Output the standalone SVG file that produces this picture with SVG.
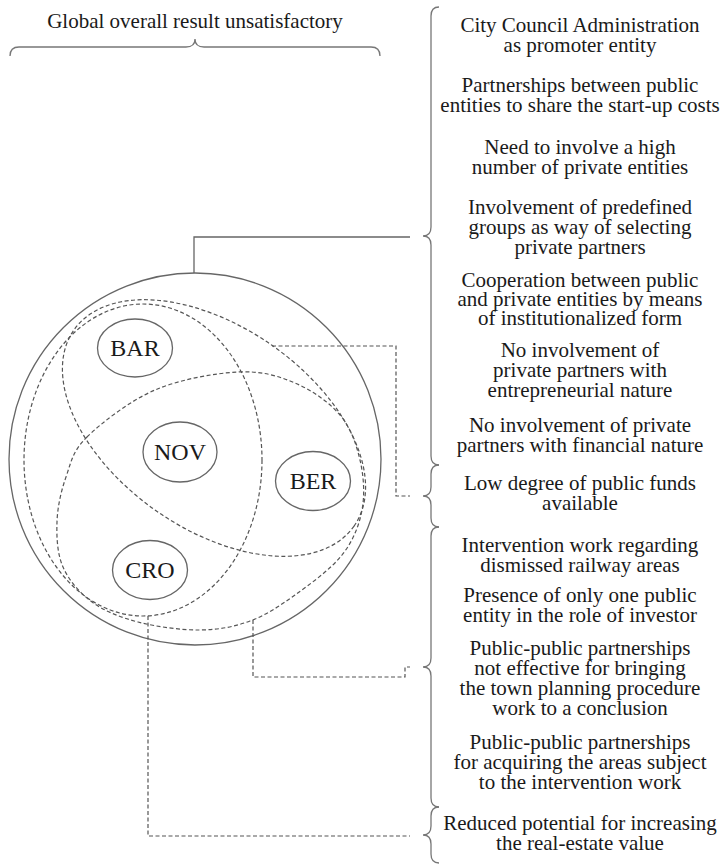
<svg xmlns="http://www.w3.org/2000/svg" width="720" height="865" viewBox="0 0 720 865">
<style>
.t{font-family:"Liberation Serif","Times New Roman",serif;font-size:21px;fill:#1a1a1a;text-anchor:middle}
.c{font-family:"Liberation Serif","Times New Roman",serif;font-size:24px;fill:#1a1a1a;text-anchor:middle}
.solid{fill:none;stroke:#666;stroke-width:1.3}
.dash{fill:none;stroke:#555;stroke-width:1.2;stroke-dasharray:4 2.5}
.brace{fill:none;stroke:#777;stroke-width:1.3}
</style>
<rect width="720" height="865" fill="#fff"/>
<g id="title">
<text class="t" x="195" y="28">Global overall result unsatisfactory</text>
<path class="brace" d="M10,56 Q10,47 19,47 L186,47 Q195,47 195,39 Q195,47 204,47 L371,47 Q380,47 380,56"/>
</g>
<g id="circle-all">
<circle class="solid" cx="195" cy="459" r="186"/>
</g>
<g id="groups">
<ellipse id="group-bar-nov-cro" class="dash" cx="143" cy="460" rx="119" ry="156"/>
<ellipse id="group-bar-nov-ber" class="dash" cx="214" cy="428" rx="171" ry="101" transform="rotate(35 214 428)"/>
<path id="group-cro-nov-ber" class="dash" d="M87,437 C101.8,422.5 129.8,400.8 155,390 C180.2,379.2 214.7,373.2 238,372 C261.3,370.8 278,375.8 295,383 C312,390.2 329.2,402.2 340,415 C350.8,427.8 356.3,444.2 360,460 C363.7,475.8 365,494.2 362,510 C359,525.8 353.2,540.8 342,555 C330.8,569.2 310.3,584 295,595 C279.7,606 265.8,615.2 250,621 C234.2,626.8 218.7,629.8 200,630 C181.3,630.2 156,626.7 138,622 C120,617.3 104.5,611.2 92,602 C79.5,592.8 68.8,580.3 63,567 C57.2,553.7 56.5,537 57,522 C57.5,507 61,491.2 66,477 C71,462.8 72.2,451.5 87,437 Z"/>
</g>
<g id="node-bar">
<ellipse class="solid" cx="135" cy="348" rx="37.5" ry="29"/>
<text class="c" x="135" y="356">BAR</text>
</g>
<g id="node-nov">
<ellipse class="solid" cx="180" cy="452" rx="37" ry="30"/>
<text class="c" x="180" y="460">NOV</text>
</g>
<g id="node-ber">
<ellipse class="solid" cx="313" cy="481" rx="37.5" ry="29.5"/>
<text class="c" x="313" y="489">BER</text>
</g>
<g id="node-cro">
<ellipse class="solid" cx="150" cy="570" rx="37.5" ry="29.5"/>
<text class="c" x="150" y="578">CRO</text>
</g>
<g id="connectors">
<path class="solid" d="M194,273 V237 H410"/>
<path class="dash" d="M272,346 H396 V496 H410"/>
<path class="dash" d="M253,620 V677 H405 V667 H410"/>
<path class="dash" d="M148,616 V836 H410"/>
</g>
<g id="braces">
<path class="brace" d="M439,7 Q431,7 431,16 L431,227 Q431,236 423,236 Q431,236 431,245 L431,456 Q431,465 439,465"/>
<path class="brace" d="M439,465 Q431,465 431,474 L431,487 Q431,496 423,496 Q431,496 431,505 L431,518 Q431,527 439,527"/>
<path class="brace" d="M439,527 Q431,527 431,536 L431,658 Q431,667 423,667 Q431,667 431,676 L431,798 Q431,807 439,807"/>
<path class="brace" d="M439,807 Q431,807 431,816 L431,826 Q431,835 423,835 Q431,835 431,844 L431,854 Q431,863 439,863"/>
</g>
<g id="features">
<text class="t" x="580" y="32">City Council Administration</text>
<text class="t" x="580" y="52">as promoter entity</text>
<text class="t" x="580" y="92">Partnerships between public</text>
<text class="t" x="580" y="112">entities to share the start-up costs</text>
<text class="t" x="580" y="154">Need to involve a high</text>
<text class="t" x="580" y="174">number of private entities</text>
<text class="t" x="580" y="214">Involvement of predefined</text>
<text class="t" x="580" y="234">groups as way of selecting</text>
<text class="t" x="580" y="254">private partners</text>
<text class="t" x="580" y="287">Cooperation between public</text>
<text class="t" x="580" y="306">and private entities by means</text>
<text class="t" x="580" y="325">of institutionalized form</text>
<text class="t" x="580" y="357">No involvement of</text>
<text class="t" x="580" y="377">private partners with</text>
<text class="t" x="580" y="397">entrepreneurial nature</text>
<text class="t" x="580" y="432">No involvement of private</text>
<text class="t" x="580" y="452">partners with financial nature</text>
<text class="t" x="580" y="490">Low degree of public funds</text>
<text class="t" x="580" y="510">available</text>
<text class="t" x="580" y="552">Intervention work regarding</text>
<text class="t" x="580" y="572">dismissed railway areas</text>
<text class="t" x="580" y="602">Presence of only one public</text>
<text class="t" x="580" y="622">entity in the role of investor</text>
<text class="t" x="580" y="655">Public-public partnerships</text>
<text class="t" x="580" y="675">not effective for bringing</text>
<text class="t" x="580" y="695">the town planning procedure</text>
<text class="t" x="580" y="715">work to a conclusion</text>
<text class="t" x="580" y="749">Public-public partnerships</text>
<text class="t" x="580" y="769">for acquiring the areas subject</text>
<text class="t" x="580" y="789">to the intervention work</text>
<text class="t" x="580" y="830">Reduced potential for increasing</text>
<text class="t" x="580" y="850">the real-estate value</text>
</g>
</svg>
